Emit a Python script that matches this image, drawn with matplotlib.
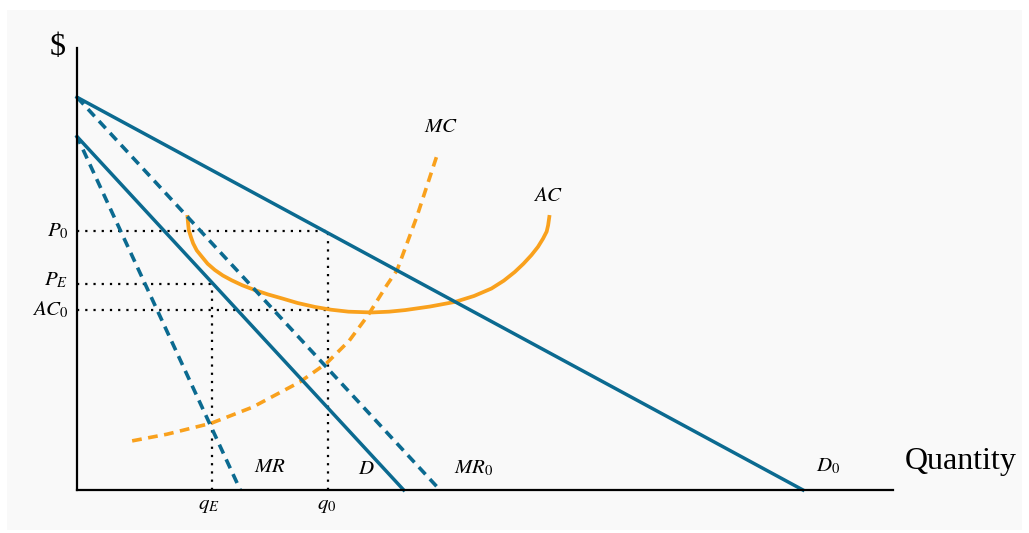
import matplotlib.pyplot as plt
from matplotlib.patches import Rectangle

plt.rcParams['mathtext.fontset'] = 'stix'
plt.rcParams['font.family'] = 'Liberation Serif'

# demand / marginal revenue lines (quantity, price) end points
d0_q = [0, 100]
d0_p = [100, 0]
mr0_q = [0, 50]
mr0_p = [100, 0]
d_q = [0, 45]
d_p = [90, 0]
mr_q = [0, 22.5]
mr_p = [90, 0]

# cost curves
mc_q = [7.6, 12.4, 18.5, 24.2, 30.7, 34.4, 37.5, 40.1, 42.7, 44.1, 46.8, 49.7]
mc_p = [12.5, 14.2, 17.0, 21.1, 27.5, 32.3, 38.0, 44.5, 52.2, 56.0, 69.5, 85.8]
ac_q = [15.2, 15.3, 15.4, 15.7, 16.0, 16.5, 17.2, 18.0, 19.0, 20.1, 21.3, 22.8,
        24.5, 26.3, 28.2, 30.4, 32.8, 35.0, 37.4, 40.6, 43.0, 45.2, 48.6,
        52.1, 54.7, 57.1, 58.8, 60.3, 61.5, 62.6, 63.5, 64.2, 64.7, 64.9, 65.1]
ac_p = [70.0, 68.0, 66.2, 64.4, 62.8, 61.0, 59.4, 57.6, 56.0, 54.6, 53.4, 52.1,
        50.9, 49.8, 48.8, 47.6, 46.6, 45.9, 45.4, 45.2, 45.4, 45.8, 46.7,
        47.9, 49.4, 51.3, 53.3, 55.5, 57.6, 59.8, 61.9, 64.0, 65.8, 67.4, 70.0]

q0, qE = 34.6, 18.6
P0, PE, AC0 = 65.9, 52.4, 45.8

blue = '#0b6a90'
orange = '#f9a11d'

fig = plt.figure(figsize=(10.29, 5.33), dpi=100)
fig.patches.append(Rectangle((0.0068, 0.0056), 0.986, 0.976, transform=fig.transFigure,
                             facecolor='#f9f9f9', edgecolor='none', zorder=-5))
ax = fig.add_axes([0.0748, 0.0807, 0.793, 0.829])
ax.set_facecolor('none')
ax.set_xlim(0, 112.4)
ax.set_ylim(0, 112.5)
for s in ['top', 'right']:
    ax.spines[s].set_visible(False)
for s in ['left', 'bottom']:
    ax.spines[s].set_linewidth(1.6)
    ax.spines[s].set_zorder(5)
ax.set_xticks([])
ax.set_yticks([])

dots = dict(color='black', linestyle=(0, (1, 2.7)), linewidth=1.6, zorder=1, clip_on=False)
ax.plot([0, q0], [P0, P0], **dots)
ax.plot([q0, q0], [0, P0], **dots)
ax.plot([0, qE], [PE, PE], **dots)
ax.plot([qE, qE], [0, PE], **dots)
ax.plot([0, q0], [AC0, AC0], **dots)

dash = (0, (2.7, 1.8))
ax.plot(d0_q, d0_p, color=blue, lw=2.5, zorder=3, clip_on=False)
ax.plot(d_q, d_p, color=blue, lw=2.5, zorder=3, clip_on=False)
ax.plot(mr0_q, mr0_p, color=blue, lw=2.6, linestyle=dash, zorder=3, clip_on=False)
ax.plot(mr_q, mr_p, color=blue, lw=2.6, linestyle=(0.5, (2.7, 1.8)), zorder=3, clip_on=False)
ax.plot(mc_q, mc_p, color=orange, lw=2.6, linestyle=dash, zorder=2)
ax.plot(ac_q, ac_p, color=orange, lw=2.7, solid_capstyle='butt',
        solid_joinstyle='round', zorder=2)

fs = 15
lab = dict(fontsize=fs, ha='center', va='center')
ax.text(-1.2, P0, '$P_0$', fontsize=fs, ha='right', va='center')
ax.text(-1.2, PE + 1.0, '$P_E$', fontsize=fs, ha='right', va='center')
ax.text(-1.2, AC0, '$AC_0$', fontsize=fs, ha='right', va='center')
ax.text(qE - 0.4, -4.0, '$q_E$', **lab)
ax.text(q0 - 0.2, -4.0, '$q_0$', **lab)
ax.text(26.6, 5.6, '$MR$', **lab)
ax.text(39.9, 5.1, '$D$', **lab)
ax.text(54.7, 5.6, '$MR_0$', **lab)
ax.text(103.4, 5.9, '$D_0$', **lab)
ax.text(50.1, 92.4, '$MC$', **lab)
ax.text(64.9, 74.6, '$AC$', **lab)
ax.text(-1.5, 112.7, r'\$', fontsize=23, ha='right', va='center')
ax.text(114.0, 7.3, 'Quantity', fontsize=23, ha='left', va='center')

fig.savefig('out.png', dpi=100)
